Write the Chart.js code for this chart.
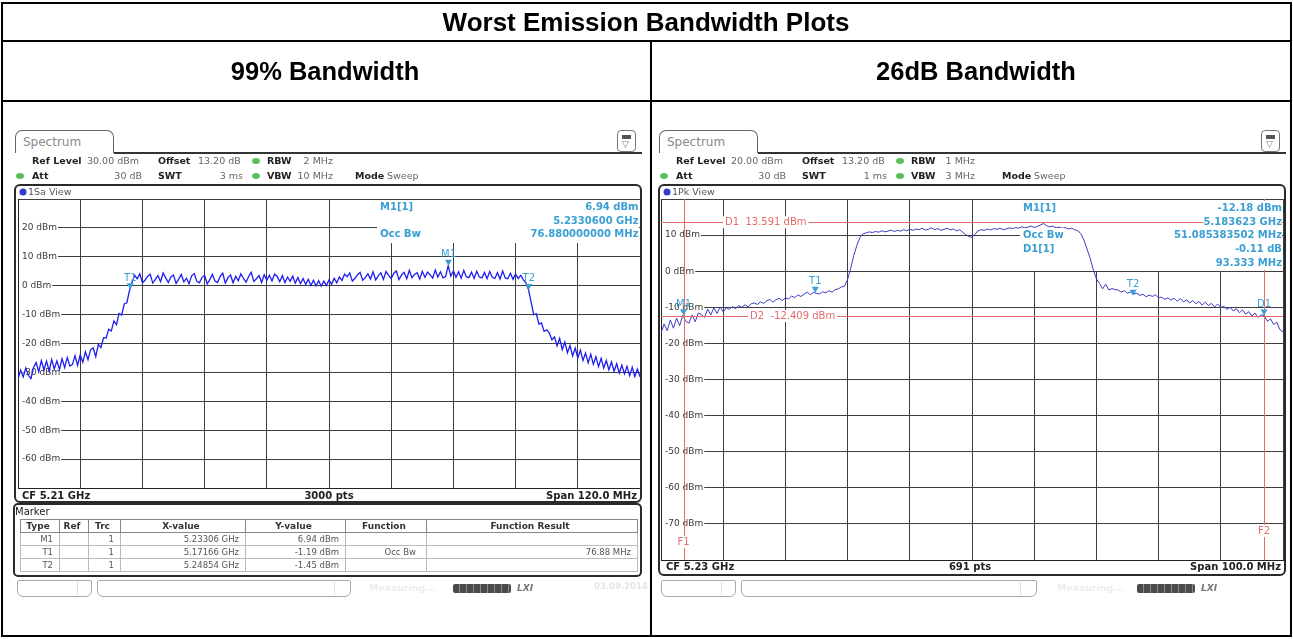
<!DOCTYPE html>
<html><head><meta charset="utf-8">
<script src="https://cdn.jsdelivr.net/npm/chart.js"></script>
<style>
html,body{margin:0;padding:0;background:#fff}
#root{position:relative;width:1293px;height:639px;overflow:hidden;font-family:"DejaVu Sans",sans-serif}
.a{position:absolute;box-sizing:border-box}
.t{position:absolute;white-space:nowrap}
.tab{position:absolute;box-sizing:border-box;border:1px solid #666;border-bottom:none;border-radius:7px 7px 0 0;background:#fff;color:#8a8a8a;font-size:12px;line-height:22px;padding-left:7px}
.view{position:absolute;box-sizing:border-box;border:2px solid #2a2a2a;border-radius:6px}
.dot{position:absolute;width:8px;height:6px;border-radius:50%;background:#5cbf5c;transform:translate(-50%,-50%)}
.bdot{position:absolute;width:7px;height:7px;border-radius:50%;background:#2a3fd0;transform:translate(-50%,-50%)}
.icon{position:absolute;box-sizing:border-box;width:19px;height:22px;border:1px solid #777;border-radius:4px;background:#fff}
.icon i{position:absolute;left:4px;top:4px;width:9px;height:4px;background:#555}
.icon b{position:absolute;left:4px;top:8px;font-size:9px;color:#777;font-weight:normal;line-height:10px}
canvas{position:absolute}
table.mk{position:absolute;border-collapse:collapse;table-layout:fixed;font-size:8.5px;color:#555;font-family:"DejaVu Sans",sans-serif}
table.mk td{border:1px solid #bbb;height:12px;line-height:12px;padding:0 6px 0 2px;text-align:right;overflow:hidden;white-space:nowrap}
table.mk tr.h td{font-weight:bold;color:#333;text-align:center;border-color:#888;font-size:9px}
.bar{position:absolute;box-sizing:border-box;border:1px solid #aaa;border-radius:2px 2px 6px 6px}
.prog{position:absolute;height:9px;border-radius:2px;background:repeating-linear-gradient(90deg,#4a4a4a 0 6px,#8a8a8a 6px 7px)}
</style></head>
<body><div id="root">
<canvas id="cL" width="624" height="291" style="left:17px;top:198px;width:624px;height:291px"></canvas>
<canvas id="cR" width="624" height="363" style="left:660px;top:198px;width:624px;height:363px"></canvas>
</div>
<script>
// ---------------- DATA ----------------
// 99% bandwidth plot (left): CF 5.21 GHz, span 120 MHz, trace levels in dBm (every 0.5 MHz)
const leftStartMHz = 5150;
const leftStopMHz = 5270;
const leftLevels = [
 -32.4,-29.2,-31.6,-28.5,-31.0,-32.1,-28.3,-26.6,-29.8,-25.9,-29.1,-26.1,-29.5,-25.6,-28.8,-26.0,-29.0,-25.3,-28.3,-24.9,-27.8,
 -27.3,-24.2,-27.6,-24.0,-26.5,-22.9,-25.6,-22.2,-21.5,-24.5,-20.3,-21.4,
 -18.0,-18.1,-15.1,-15.7,-12.2,-13.5,-9.6,-10.1,-6.3,-5.9,-1.8,
 1.2,3.6,2.4,4.1,1.0,1.9,3.2,4.0,0.9,2.2,3.5,1.4,4.4,2.7,1.1,3.0,3.7,0.8,2.3,3.9,1.3,2.6,0.7,3.4,4.2,1.5,1.0,2.9,3.6,0.6,
 2.1,3.9,1.6,1.1,3.2,4.3,0.9,2.8,3.7,1.0,3.3,1.7,4.1,2.5,1.2,3.2,4.6,1.5,2.4,3.5,1.1,3.8,1.9,3.6,1.6,4.0,
 3.2,1.4,3.5,1.1,3.0,1.5,3.3,0.9,2.8,0.7,2.5,0.4,2.2,0.1,1.9,-0.1,1.7,-0.2,1.6,0.1,2.0,0.5,2.6,1.0,3.0,
 1.8,4.0,3.1,4.4,1.6,2.5,3.8,4.6,1.9,2.8,4.1,2.3,4.8,2.0,3.4,4.5,
 2.2,4.9,3.6,2.5,4.3,5.1,2.1,3.7,4.6,2.4,5.3,2.8,3.9,4.5,2.3,5.0,2.9,4.7,3.8,2.6,5.4,3.0,4.8,2.7,3.2,
 6.94,
 3.3,5.1,2.9,4.8,2.6,5.3,3.1,2.8,4.7,2.5,5.0,3.0,2.7,4.6,2.4,4.9,2.9,2.5,4.5,2.3,5.1,2.7,2.4,4.3,2.2,4.1,2.5,3.6,2.0,1.0,
 -1.45,
 -5.8,-10.0,-9.7,-13.3,-12.9,-15.8,-15.3,-16.4,-18.7,-17.7,-20.8,-18.2,-22.1,-19.5,-23.2,-20.7,-24.3,-21.6,-25.0,-22.3,
 -25.9,-23.3,-26.7,-23.7,-27.2,-24.6,-28.0,-25.1,-28.5,-25.9,-29.1,-26.4,-29.6,-27.0,-30.2,-27.5,-30.5,-27.9,-31.1,-28.2,
 -31.4,-28.8,-31.5
];
const leftMarkerNames = ['M1','T1','T2'];
const leftMarkerFreq = [5233.06, 5171.66, 5248.54];
const leftMarkerLevel = [6.94, -1.19, -1.45];

// 26dB bandwidth plot (right): CF 5.23 GHz, span 100 MHz, trace levels in dBm (every 0.5 MHz)
const rightStartMHz = 5180;
const rightStopMHz = 5280;
const rightLevels = [
 -17.2,-14.6,-16.5,-13.5,-15.8,-13.0,-15.1,-12.2,-13.9,-14.4,-12.1,
 -14.0,-11.6,-12.0,-12.8,-10.5,-12.1,-10.2,-11.7,-9.9,-11.3,
 -10.1,-10.6,-9.8,-10.4,-9.5,-10.0,-9.3,-9.9,-9.0,-8.8,
 -9.2,-8.5,-8.9,-8.2,-7.8,-8.6,-7.9,-7.5,-8.1,-7.4,
 -7.7,-6.9,-7.3,-6.6,-7.0,-6.4,-5.8,-6.5,-5.9,-6.1,
 -6.3,-5.7,-6.0,-5.4,-5.8,-5.1,-4.9,-4.4,-4.1,
 -2.3,0.8,4.4,7.2,9.4,10.4,
 10.6,10.9,10.7,11.0,10.8,11.2,10.9,11.1,11.4,11.0,11.3,11.1,11.5,11.2,11.6,
 11.3,11.7,11.5,11.9,11.4,11.6,12.0,11.5,11.8,11.3,11.6,11.9,11.4,11.7,11.2,11.5,
 10.8,10.1,9.6,9.4,10.3,
 11.2,11.5,11.3,11.7,11.4,11.8,11.6,11.9,11.5,11.7,12.0,11.8,12.1,11.9,12.3,12.0,12.2,12.5,12.1,
 12.4,12.8,13.2,12.6,12.3,12.5,12.0,12.2,11.9,12.1,11.7,11.9,11.5,
 11.2,10.4,8.6,6.1,3.6,0.4,-2.1,
 -3.4,-4.9,-3.6,-5.2,-4.8,-5.1,-5.2,-5.8,-5.4,-6.1,-5.8,-6.3,-6.1,-6.7,-6.4,-7.1,-6.6,-7.0,-6.5,-7.4,
 -7.2,-7.8,-7.4,-8.0,-7.5,-8.3,-7.6,-8.5,-7.9,-8.8,-8.1,-9.0,-8.4,-9.4,-8.6,-9.5,-8.9,-9.9,-9.1,-10.0,
 -9.8,-10.6,-10.0,-11.0,-10.4,-11.5,-10.7,-11.9,-11.2,-12.4,-11.6,-12.8,-12.1,-12.3,-13.9,-13.2,-14.8,-14.1,-16.2,-16.8
];
const rightMarkerNames = ['M1','T1','T2','D1'];
const rightMarkerFreq = [5183.623, 5204.8, 5255.9, 5276.956];
const rightMarkerLevel = [-12.18, -6.0, -6.8, -12.29];
const refLineNames = ['D1','D2'];
const refLineLevels = [13.591, -12.409];
const freqLineNames = ['F1','F2'];
const freqLineValues = [5183.623, 5276.956];

// ---------------- PAGE CHROME ----------------
const TEAL = '#3b9fd4';
const RED = '#e56b6b';
const root = document.getElementById('root');
function box(cls, l, t, w, h, style){const d=document.createElement('div');d.className=cls;d.style.cssText=`left:${l}px;top:${t}px;width:${w}px;height:${h}px;`+(style||'');root.appendChild(d);return d;}
function txt(s, x, y, o){o=o||{};const d=document.createElement('div');d.className='t';d.textContent=s;const lh=o.lh||12;
 d.style.cssText=`left:${x}px;top:${y-lh/2}px;line-height:${lh}px;height:${lh}px;`+(o.s||'');
 if(o.a==='c')d.style.transform='translateX(-50%)'; if(o.a==='r')d.style.transform='translateX(-100%)';
 root.appendChild(d);return d;}

// table frame
box('a',1,2,1291,635,'border:2px solid #000');
box('a',1,40,1291,2,'background:#000');
box('a',1,100,1291,2,'background:#000');
box('a',650,41,2,596,'background:#000');
const H='font-family:"Liberation Sans",Arial,sans-serif;font-weight:bold;font-size:26px;color:#000;';
txt('Worst Emission Bandwidth Plots',646,22,{a:'c',lh:30,s:H});
txt('99% Bandwidth',325,71,{a:'c',lh:30,s:H+'font-size:25.5px;'});
txt('26dB Bandwidth',976,71,{a:'c',lh:30,s:H+'font-size:25.5px;'});

const B='font-size:9.5px;font-weight:bold;color:#222;';
const V='font-size:9.5px;color:#666;';
const INFO=`font-size:10px;font-weight:bold;color:${TEAL};background:#fff;`;
const CF='font-size:10px;font-weight:bold;color:#222;';

function panel(p){
 const o=p.ox;
 const tab=box('tab',15+o,130,99,23,''); tab.textContent='Spectrum';
 box('a',114+o,152,528,2,'background:#333');
 const ic=box('icon',617+o,130,19,22,''); ic.innerHTML='<i></i><b>&#9661;</b>';
 const r1=160.7, r2=175.5;
 txt('Ref Level',32+o,r1,{s:B}); txt(p.ref,87+o,r1,{s:V});
 txt('Offset',158+o,r1,{s:B}); txt('13.20 dB',198+o,r1,{s:V});
 txt('RBW',267+o,r1,{s:B}); txt(p.rbw,p.valEnd,r1,{s:V,a:'r'});
 txt('Att',32+o,r2,{s:B}); txt('30 dB',142+o,r2,{s:V,a:'r'});
 txt('SWT',158+o,r2,{s:B}); txt(p.swt,243+o,r2,{s:V,a:'r'});
 txt('VBW',267+o,r2,{s:B}); txt(p.vbw,p.valEnd,r2,{s:V,a:'r'});
 txt('Mode',p.modeX,r2,{s:B}); txt('Sweep',p.modeX+32,r2,{s:V});
 [[256+o,r1],[20+o,r2],[256+o,r2]].forEach(([x,y])=>{const d=document.createElement('div');d.className='dot';d.style.left=x+'px';d.style.top=y+'px';root.appendChild(d);});
 box('view',14+o,184,p.viewW,p.viewH,'');
 const bd=document.createElement('div');bd.className='bdot';bd.style.left=(22.5+o)+'px';bd.style.top='192px';root.appendChild(bd);
 txt(p.view,28+o,192,{s:'font-size:9.5px;color:#555;'});
 txt(p.cf,22+o,p.cfY,{s:CF}); txt(p.pts,p.ptsX,p.cfY,{s:CF,a:'c'}); txt(p.span,637+o,p.cfY,{s:CF,a:'r'});
 // bottom bar
 box('bar',17+o,580,75,17,''); box('a',77+o,582,1,13,'background:#ddd');
 box('bar',97+o,580,p.bar2W,17,''); box('a',97+o+p.bar2W-17,582,1,13,'background:#ddd');
 txt('Measuring...',p.measX,588,{s:'font-size:9.5px;font-weight:bold;color:#ececec;'});
 box('prog',p.progX,584,58,9,'');
 txt('LXI',p.progX+64,588,{s:'font-size:9px;font-weight:bold;font-style:italic;color:#777;'});
}
panel({ox:0,ref:'30.00 dBm',rbw:'2 MHz',swt:'3 ms',vbw:'10 MHz',valEnd:333,modeX:355,viewW:628,viewH:319,view:'1Sa View',
 cf:'CF 5.21 GHz',pts:'3000 pts',ptsX:329,span:'Span 120.0 MHz',cfY:495.7,bar2W:254,measX:369,progX:453});
panel({ox:644,ref:'20.00 dBm',rbw:'1 MHz',swt:'1 ms',vbw:'3 MHz',valEnd:975,modeX:1002,viewW:628,viewH:392,view:'1Pk View',
 cf:'CF 5.23 GHz',pts:'691 pts',ptsX:970,span:'Span 100.0 MHz',cfY:567,bar2W:296,measX:1057,progX:1137});
txt('03.09.2014',594,586,{s:'font-size:8.5px;font-weight:bold;color:#e6e6e6;'});

// left marker box + table
box('view',13,503,629,74,'border-radius:5px;');
txt('Marker',15,512.3,{s:'font-size:10px;color:#222;'});
const tbl=document.createElement('table');tbl.className='mk';tbl.style.left='20px';tbl.style.top='519px';tbl.style.width='617px';
const cols=[39,29,32,125,100,81,211];
let html='<colgroup>'+cols.map(w=>`<col style="width:${w}px">`).join('')+'</colgroup>';
const headers=['Type','Ref','Trc','X-value','Y-value','Function','Function Result'];
html+='<tr class="h">'+headers.map(h=>`<td>${h}</td>`).join('')+'</tr>';
const rows=[['M1','','1','5.23306 GHz','6.94 dBm','',''],['T1','','1','5.17166 GHz','-1.19 dBm','Occ Bw','76.88 MHz'],['T2','','1','5.24854 GHz','-1.45 dBm','','']];
rows.forEach(r=>{html+='<tr>'+r.map((c,i)=>`<td${i===5?' style="padding-right:10px"':''}>${c}</td>`).join('')+'</tr>';});
tbl.innerHTML=html; root.appendChild(tbl);

// info texts inside plots (white-backed)
function info(l, rLines, x, right, y0, dy){
 l.forEach((s,i)=>{ if(s) txt(s,x,y0+i*dy,{s:INFO,lh:14}); });
 rLines.forEach((s,i)=>{ txt(s,right,y0+i*dy,{s:INFO,lh:14,a:'r'}); });
}
info(['M1[1]','','Occ Bw'],['6.94 dBm','5.2330600 GHz','76.880000000 MHz'],380,638.5,207.2,13.5);
info(['M1[1]','','Occ Bw','D1[1]'],['-12.18 dBm','5.183623 GHz','51.085383502 MHz','-0.11 dB','93.333 MHz'],1023,1282,208,13.7);

// ---------------- CHARTS ----------------
Chart.defaults.font.family='"DejaVu Sans", sans-serif';
function sweepPoints(start, stop, n){const out=[];for(let i=0;i<n;i++)out.push(start+(stop-start)*i/(n-1));return out;}

function infoBoxPlugin(h){return {id:'infobox',beforeDatasetsDraw(chart){const a=chart.chartArea,c=chart.ctx;c.save();c.fillStyle='#fff';c.fillRect(a.left+359,a.top+1,a.right-a.left-360,h);c.restore();}};}
function markerPlugin(names,freqs,levels){return {id:'markers',afterDatasetsDraw(chart){
 const c=chart.ctx,xs=chart.scales.x,ys=chart.scales.y;c.save();c.font='10px "DejaVu Sans"';c.textAlign='center';c.textBaseline='bottom';
 names.forEach((n,i)=>{const x=xs.getPixelForValue(freqs[i]),y=ys.getPixelForValue(levels[i]);
  c.fillStyle=TEAL;c.beginPath();c.moveTo(x,y);c.lineTo(x-3.5,y-6);c.lineTo(x+3.5,y-6);c.closePath();c.fill();
  c.fillText(n,x,y-6);});
 c.restore();}};}
const refLinePlugin={id:'reflines',afterDatasetsDraw(chart){
 const c=chart.ctx,a=chart.chartArea,xs=chart.scales.x,ys=chart.scales.y;c.save();
 c.strokeStyle=RED;c.lineWidth=1;
 refLineLevels.forEach(v=>{const y=Math.round(ys.getPixelForValue(v))+0.5;c.beginPath();c.moveTo(a.left,y);c.lineTo(a.right,y);c.stroke();});
 freqLineValues.forEach(f=>{const x=Math.round(xs.getPixelForValue(f))+0.5;c.beginPath();c.moveTo(x,a.top);c.lineTo(x,a.bottom);c.stroke();});
 c.font='10px "DejaVu Sans"';c.textBaseline='middle';
 const lab=(s,x,y,center)=>{const w=c.measureText(s).width;const lx=center?x-w/2:x;c.fillStyle='#fff';c.fillRect(lx-2,y-6,w+4,12);c.fillStyle=RED;c.fillText(s,lx,y);};
 const off=[64,89];
 refLineLevels.forEach((v,i)=>lab(refLineNames[i]+'  '+v.toFixed(3)+' dBm',a.left+off[i],ys.getPixelForValue(v),false));
 const fy=[a.bottom-18,a.bottom-29];
 freqLineValues.forEach((f,i)=>lab(freqLineNames[i],xs.getPixelForValue(f),fy[i],true));
 c.restore();}};

function spectrum(id,o){
 const xs=sweepPoints(o.start,o.stop,o.levels.length);
 return new Chart(document.getElementById(id),{
  type:'line',
  data:{datasets:[{data:o.levels.map((v,i)=>({x:xs[i],y:v})),borderColor:o.color,borderWidth:o.lw,pointRadius:0,tension:0,fill:false}]},
  options:{responsive:false,animation:false,events:[],layout:{padding:1},
   plugins:{legend:{display:false},tooltip:{enabled:false}},
   scales:{
    x:{type:'linear',min:o.start,max:o.stop,ticks:{display:false,stepSize:o.xStep},grid:{color:'#3e3e3e',drawTicks:false},border:{color:'#222'},
       afterFit:s=>{s.height=0;s.paddingLeft=0;s.paddingRight=0;}},
    y:{type:'linear',min:o.yMin,max:o.yMax,
       ticks:{stepSize:10,mirror:true,padding:4,color:'#3a3a3a',font:{size:9},showLabelBackdrop:true,backdropPadding:{left:3,right:1,top:0,bottom:0},
        backdropColor:ctx=>(ctx.tick&&(ctx.tick.value===o.yMin||ctx.tick.value===o.yMax))?'rgba(255,255,255,0)':'#fff',
        callback:v=>(v===o.yMin||v===o.yMax)?'':v+' dBm'},
       grid:{color:'#3e3e3e',drawTicks:false},border:{color:'#222'},
       afterFit:s=>{s.width=0;s.paddingTop=0;s.paddingBottom=0;}}
   }},
  plugins:o.plugins
 });
}
spectrum('cL',{start:leftStartMHz,stop:leftStopMHz,levels:leftLevels,xStep:12,yMin:-70,yMax:30,color:'#1e1ef2',lw:1.3,
 plugins:[infoBoxPlugin(43),markerPlugin(leftMarkerNames,leftMarkerFreq,leftMarkerLevel)]});
spectrum('cR',{start:rightStartMHz,stop:rightStopMHz,levels:rightLevels,xStep:10,yMin:-80,yMax:20,color:'#3b3bc4',lw:1,
 plugins:[infoBoxPlugin(71),refLinePlugin,markerPlugin(rightMarkerNames,rightMarkerFreq,rightMarkerLevel)]});
</script>
</body></html>
